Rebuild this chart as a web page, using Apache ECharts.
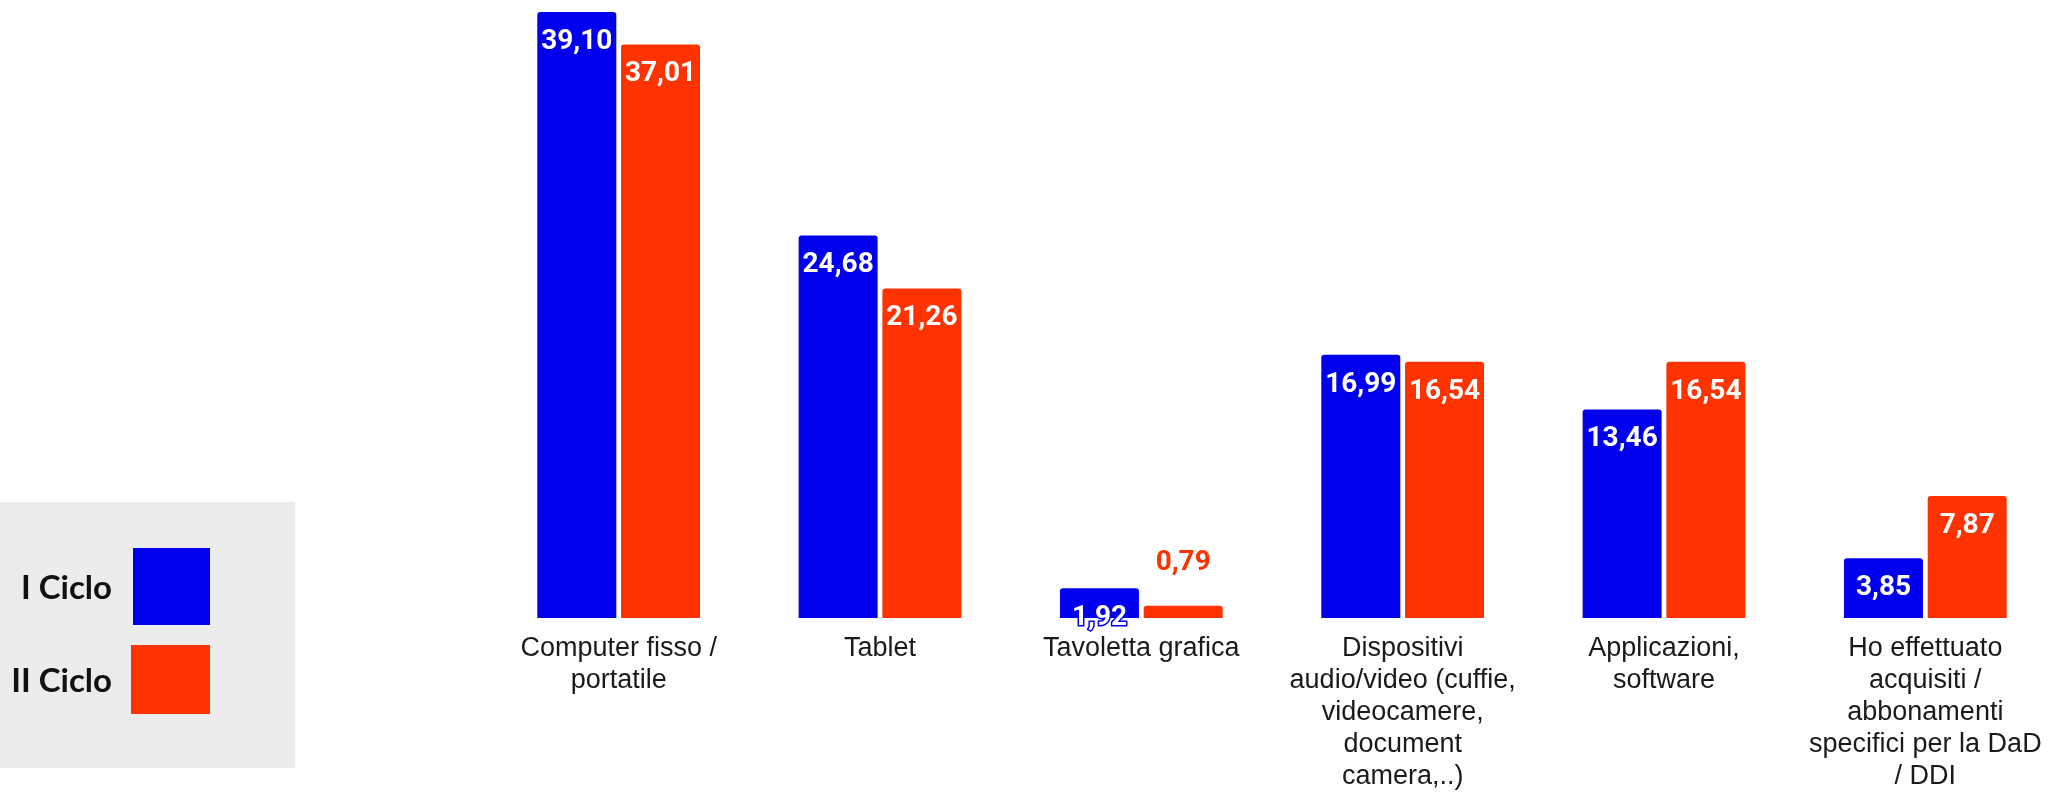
<!DOCTYPE html>
<html>
<head>
<meta charset="utf-8">
<script src="https://cdn.jsdelivr.net/npm/echarts@6/dist/echarts.min.js"></script>
<style>
html,body{margin:0;padding:0;background:#fff;}
#chart{width:2056px;height:793px;}
</style>
</head>
<body>
<div id="chart"></div>
<script>
var categories = [
  'Computer fisso /\nportatile',
  'Tablet',
  'Tavoletta grafica',
  'Dispositivi\naudio/video (cuffie,\nvideocamere,\ndocument\ncamera,..)',
  'Applicazioni,\nsoftware',
  'Ho effettuato\nacquisiti /\nabbonamenti\nspecifici per la DaD\n/ DDI'
];
var seriesNames = ['I Ciclo', 'II Ciclo'];
var ciclo1 = [39.10, 24.68, 1.92, 16.99, 13.46, 3.85];
var ciclo2 = [37.01, 21.26, 0.79, 16.54, 16.54, 7.87];
var colors = ['#0000ee', '#ff3300'];

var fmt = function (p) { return p.value.toFixed(2).replace('.', ','); };

function makeSeries(name, values, color) {
  return {
    name: name,
    type: 'bar',
    barWidth: 79,
    barGap: '6%',
    itemStyle: { color: color, borderRadius: [3, 3, 0, 0] },
    label: {
      show: true,
      position: 'insideTop',
      distance: 16,
      color: '#ffffff',
      fontFamily: 'Roboto',
      fontWeight: 'bold',
      fontSize: 28,
      textBorderColor: color,
      textBorderWidth: 3,
      formatter: fmt
    },
    data: values.map(function (v) {
      if (v < 1.5) {
        return {
          value: v,
          label: { position: 'top', distance: 29, color: color, textBorderWidth: 0 }
        };
      }
      return v;
    })
  };
}

var chart = echarts.init(document.getElementById('chart'));
chart.setOption({
  backgroundColor: '#ffffff',
  animation: false,
  grid: { left: 488, top: 12, width: 1573, height: 607, containLabel: false },
  xAxis: {
    type: 'category',
    data: categories,
    axisLine: { show: false },
    axisTick: { show: false },
    axisLabel: {
      interval: 0,
      margin: 15,
      color: '#1a1a1a',
      fontFamily: 'Liberation Sans',
      fontSize: 27,
      lineHeight: 32,
      align: 'center'
    }
  },
  yAxis: {
    type: 'value',
    min: 0,
    max: 39.1,
    show: false,
    splitLine: { show: false }
  },
  series: [
    makeSeries(seriesNames[0], ciclo1, colors[0]),
    makeSeries(seriesNames[1], ciclo2, colors[1])
  ],
  graphic: [
    { type: 'rect', shape: { x: 0, y: 502, width: 295, height: 266 }, style: { fill: '#ececec' }, silent: true },
    { type: 'rect', shape: { x: 133, y: 548, width: 77, height: 77 }, style: { fill: colors[0] }, silent: true },
    { type: 'rect', shape: { x: 131, y: 645, width: 79, height: 69 }, style: { fill: colors[1] }, silent: true },
    { type: 'text', x: 112, y: 588, style: { text: seriesNames[0], fill: '#111', font: 'bold 33px Lato', align: 'right', verticalAlign: 'middle' }, silent: true },
    { type: 'text', x: 112, y: 681, style: { text: seriesNames[1], fill: '#111', font: 'bold 33px Lato', align: 'right', verticalAlign: 'middle' }, silent: true }
  ]
});
</script>
</body>
</html>
